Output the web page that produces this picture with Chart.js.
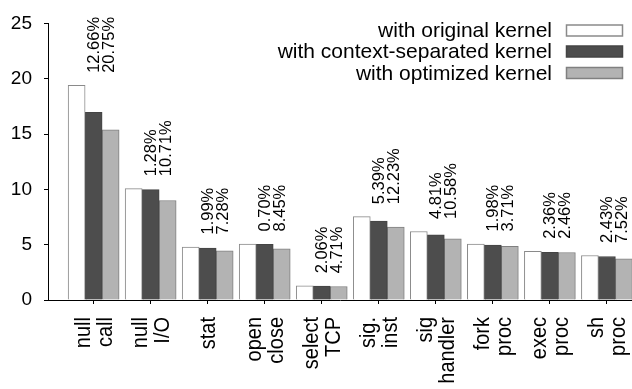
<!DOCTYPE html>
<html>
<head>
<meta charset="utf-8">
<script src="https://cdn.jsdelivr.net/npm/chart.js@4"></script>
<style>
    html, body { margin: 0; padding: 0; background: #fff; }
    #wrap { width: 632px; height: 389px; }
</style>
</head>
<body>
<div id="wrap"><canvas id="chart" width="632" height="389"></canvas></div>
<script>
// ===== DATA =====
const categories = [
    ["null", "call"], ["null", "I/O"], ["stat"], ["open", "close"], ["select", "TCP"],
    ["sig.", "inst"], ["sig", "handler"], ["fork", "proc"], ["exec", "proc"], ["sh", "proc"]
];
const seriesNames = ["with original kernel", "with context-separated kernel", "with optimized kernel"];
const originalKernel = [19.4, 10.06, 4.79, 5.06, 1.28, 7.53, 6.19, 5.06, 4.40, 4.02];
const separatedKernel = [16.96, 9.97, 4.70, 5.03, 1.25, 7.14, 5.89, 4.97, 4.31, 3.93];
const optimizedKernel = [15.38, 8.99, 4.44, 4.62, 1.22, 6.60, 5.53, 4.86, 4.29, 3.71];
const separatedGain = [12.66, 1.28, 1.99, 0.70, 2.06, 5.39, 4.81, 1.98, 2.36, 2.43];
const optimizedGain = [20.75, 10.71, 7.28, 8.45, 4.71, 12.23, 10.58, 3.71, 2.46, 7.52];
const yTicks = [0, 5, 10, 15, 20, 25];

const FONT = "'Liberation Sans', Arial, Helvetica, sans-serif";

const toPoints = arr => arr.map((v, i) => ({ x: i, y: v }));

// draw text rotated to read bottom-to-top, glyphs a bit widened like the original
function upText(ctx, txt, x, y, stretch) {
    ctx.save();
    ctx.translate(x, y);
    ctx.rotate(-Math.PI / 2);
    ctx.scale(1, stretch);
    ctx.fillText(txt, 0, 0);
    ctx.restore();
}

// ===== PLUGIN: x labels, percentages, legend =====
const extras = {
    id: "extras",
    afterDraw(chart) {
        const ctx = chart.ctx;
        const xs = chart.scales.x;
        const ys = chart.scales.y;
        ctx.save();
        ctx.fillStyle = "#000";

        // category labels
        ctx.font = "20px " + FONT;
        ctx.textAlign = "right";
        ctx.textBaseline = "middle";
        categories.forEach((lines, i) => {
            const px = xs.getPixelForValue(i);
            lines.forEach((t, j) => {
                upText(ctx, t, px - (lines.length - 1) * 11 + j * 22 + 1, 317, 1.08);
            });
        });

        // percentage labels above each group
        ctx.font = "16.5px " + FONT;
        ctx.textAlign = "left";
        categories.forEach((c, i) => {
            const px = xs.getPixelForValue(i);
            const top = Math.max(originalKernel[i], separatedKernel[i], optimizedKernel[i]);
            const py = ys.getPixelForValue(top) - 12.5;
            [separatedGain[i], optimizedGain[i]].forEach((g, j) => {
                upText(ctx, g.toFixed(2) + "%", px + 0.5 + j * 15, py, 1.05);
            });
        });

        // legend
        ctx.font = "21px " + FONT;
        ctx.textAlign = "right";
        const rows = [30.5, 51.5, 73];
        chart.data.datasets.forEach((ds, k) => {
            const y = rows[k];
            ctx.fillStyle = "#000";
            ctx.fillText(ds.label, 552, y + 1);
            ctx.fillStyle = ds.backgroundColor;
            ctx.fillRect(566.5, y - 5.5, 56, 11);
            ctx.strokeStyle = ds.borderColor;
            ctx.lineWidth = 1.5;
            ctx.strokeRect(566.5, y - 5.5, 56, 11);
        });
        ctx.restore();
    }
};

// ===== CHART =====
const chart = new Chart(document.getElementById("chart"), {
    type: "bar",
    data: {
        datasets: [
            { label: seriesNames[0], data: toPoints(originalKernel), backgroundColor: "#ffffff", borderColor: "#8a8a8a" },
            { label: seriesNames[1], data: toPoints(separatedKernel), backgroundColor: "#4d4d4d", borderColor: "#444444" },
            { label: seriesNames[2], data: toPoints(optimizedKernel), backgroundColor: "#b3b3b3", borderColor: "#808080" }
        ]
    },
    options: {
        responsive: false,
        animation: false,
        events: [],
        layout: { padding: { top: 20, left: 0, right: 0, bottom: 0 } },
        datasets: { bar: { barThickness: 17, borderWidth: 1, borderSkipped: "bottom" } },
        plugins: { legend: { display: false }, tooltip: { enabled: false } },
        scales: {
            x: {
                type: "linear",
                offset: false,
                min: -0.8,
                max: 9.44,
                afterBuildTicks: s => { s.ticks = categories.map((c, i) => ({ value: i })); },
                afterFit: s => { s.height = 89; },
                ticks: { display: false },
                grid: { offset: false, drawOnChartArea: false, drawTicks: true, tickLength: 4, color: "#000" },
                border: { display: true, color: "#000", width: 1 }
            },
            y: {
                min: 0,
                max: 25,
                afterBuildTicks: s => { s.ticks = yTicks.map(v => ({ value: v })); },
                afterFit: s => { s.width = 48; },
                ticks: { color: "#000", padding: 12, font: { family: FONT, size: 19 } },
                grid: { drawOnChartArea: false, drawTicks: true, tickLength: 4, color: "#000" },
                border: { display: true, color: "#000", width: 1 }
            }
        }
    },
    plugins: [extras]
});
</script>
</body>
</html>
